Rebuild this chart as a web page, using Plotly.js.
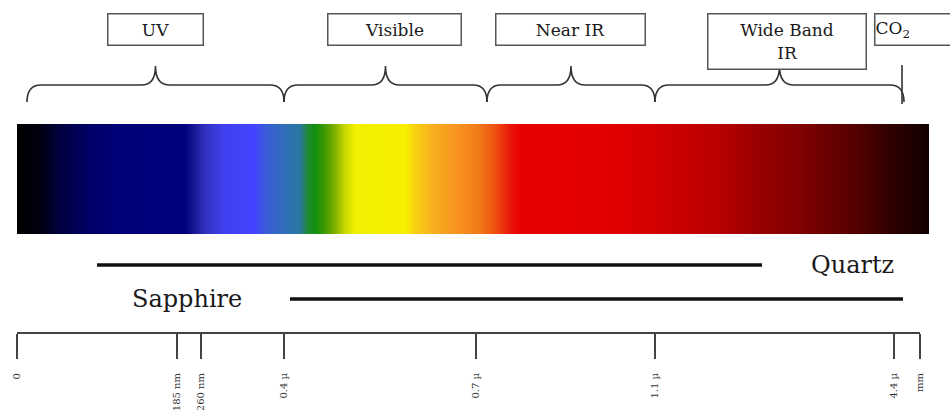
<!DOCTYPE html>
<html>
<head>
<meta charset="utf-8">
<script src="https://cdn.plot.ly/plotly-3.0.1.min.js"></script>
<style>html,body{margin:0;padding:0;background:#fff;}#chart{width:950px;height:410px;}</style>
</head>
<body>
<div id="chart"></div>
<script>
// ---- data ----
const tickLabels = ['0', '185 nm', '260 nm', '0.4 µ', '0.7 µ', '1.1 µ', '4.4 µ', 'mm'];
const tickPos = [17, 177, 201, 284, 476, 655, 894, 920];

const bandNames = ['UV', 'Visible', 'Near IR', 'Wide Band<br>IR'];
const bandStart = [27, 284, 487, 655];
const bandEnd = [284, 487, 655, 904];
const co2Name = 'CO<sub>2</sub>';
const co2Pos = 902;

const materialNames = ['Quartz', 'Sapphire'];
const materialStart = [97, 290];
const materialEnd = [762, 903];

const spectrumPos = [17, 40, 60, 90, 120, 185, 195, 205, 225, 255, 265, 285, 300, 308, 315, 325, 335, 345, 355, 405, 415, 432, 460, 480, 495, 510, 520, 620, 660, 720, 760, 790, 820, 860, 890, 910, 929];
const spectrumColors = ['#000000', '#000010', '#000040', '#000068', '#000078', '#00007c', '#1a1a98', '#3030c0', '#4040f0', '#4444ff', '#3a5ad8', '#3070b8', '#2878a0', '#208830', '#109010', '#409800', '#80b000', '#c8d800', '#f0f000', '#f8f000', '#f8d010', '#f8b020', '#f89020', '#f07818', '#f05010', '#e81808', '#e80000', '#e00000', '#d00000', '#b80000', '#980000', '#880000', '#700000', '#500000', '#300000', '#200000', '#100000'];

// ---- layout constants (positions / styles) ----
const W = 950, H = 410;
const barTop = 124, barBottom = 234;
const braceLine = 85, braceEnd = 102, braceTip = 66, braceR = 14;
const axisY = 333;
const materialY = [265, 299];
const materialLabelX = [852, 187];
const boxLabelX = [155.5, 394.5, 570, 787];
const boxW = [94, 132, 148, 157];
const boxH = [30, 30, 30, 54];
const boxY = [29, 29, 29, 41];
const serif = 'DejaVu Serif, Liberation Serif, serif';

const lo = spectrumPos[0], hi = spectrumPos[spectrumPos.length - 1];
const colorscale = spectrumPos.map((p, i) => [(p - lo) / (hi - lo), spectrumColors[i]]);

const traces = [];
// spectrum bar
traces.push({
  type: 'scatter', mode: 'lines',
  x: [lo, hi, hi, lo, lo], y: [barTop, barTop, barBottom, barBottom, barTop],
  line: {width: 0, color: 'rgba(0,0,0,0)'},
  fill: 'toself',
  fillgradient: {type: 'horizontal', colorscale: colorscale, start: lo, stop: hi},
  hoverinfo: 'skip', showlegend: false
});
// material transmission ranges
materialNames.forEach((n, i) => {
  traces.push({
    type: 'scatter', mode: 'lines', name: n,
    x: [materialStart[i], materialEnd[i]], y: [materialY[i], materialY[i]],
    line: {color: '#111', width: 3.5}, showlegend: false, hoverinfo: 'skip'
  });
});

const shapes = [];
bandNames.forEach((n, i) => {
  const a = bandStart[i], b = bandEnd[i], m = (a + b) / 2, r = braceR;
  const path = `M ${a},${braceEnd} Q ${a},${braceLine} ${a + r},${braceLine} L ${m - r},${braceLine} ` +
    `Q ${m},${braceLine} ${m},${braceTip} Q ${m},${braceLine} ${m + r},${braceLine} ` +
    `L ${b - r},${braceLine} Q ${b},${braceLine} ${b},${braceEnd}`;
  shapes.push({type: 'path', xref: 'x', yref: 'y', path: path, line: {color: '#333', width: 1.6}});
});
shapes.push({type: 'line', xref: 'x', yref: 'y', x0: co2Pos, x1: co2Pos, y0: 65, y1: 104, line: {color: '#333', width: 1.6}});
// scale axis line
shapes.push({type: 'line', xref: 'x', yref: 'y', x0: tickPos[0], x1: tickPos[tickPos.length - 1], y0: axisY, y1: axisY, line: {color: '#444', width: 2}});

const annotations = [];
bandNames.forEach((n, i) => {
  annotations.push({
    xref: 'x', yref: 'y', x: boxLabelX[i], y: boxY[i], text: n, showarrow: false,
    xanchor: 'center', yanchor: 'middle', width: boxW[i], height: boxH[i],
    bordercolor: '#555', borderwidth: 1.5, borderpad: 0, bgcolor: '#fff',
    font: {family: serif, size: 17, color: '#1a1a1a'}
  });
});
annotations.push({
  xref: 'x', yref: 'y', x: 874, y: 29, text: co2Name, showarrow: false,
  xanchor: 'left', yanchor: 'middle', width: 90, height: 30, align: 'left',
  bordercolor: '#555', borderwidth: 1.5, borderpad: 0, bgcolor: '#fff',
  font: {family: serif, size: 17, color: '#1a1a1a'}
});
materialNames.forEach((n, i) => {
  annotations.push({
    xref: 'x', yref: 'y', x: materialLabelX[i], y: materialY[i], text: n, showarrow: false,
    xanchor: 'center', yanchor: 'middle',
    font: {family: serif, size: 24, color: '#1a1a1a'}
  });
});

const layout = {
  width: W, height: H,
  margin: {l: 0, r: 0, t: 0, b: 0},
  paper_bgcolor: '#fff', plot_bgcolor: '#fff',
  showlegend: false,
  xaxis: {
    range: [0, W], domain: [0, 1], anchor: 'free', position: (H - axisY) / H,
    showgrid: false, zeroline: false, showline: false,
    ticks: 'outside', ticklen: 25, tickwidth: 2, tickcolor: '#444',
    tickmode: 'array', tickvals: tickPos, ticktext: tickLabels,
    tickangle: -90, ticklabelstandoff: 10,
    tickfont: {family: serif, size: 10, color: '#333'},
    fixedrange: true
  },
  yaxis: {range: [H, 0], domain: [0, 1], visible: false, showgrid: false, zeroline: false, fixedrange: true},
  shapes: shapes,
  annotations: annotations
};

Plotly.newPlot('chart', traces, layout, {staticPlot: true, displayModeBar: false});
</script>
</body>
</html>
